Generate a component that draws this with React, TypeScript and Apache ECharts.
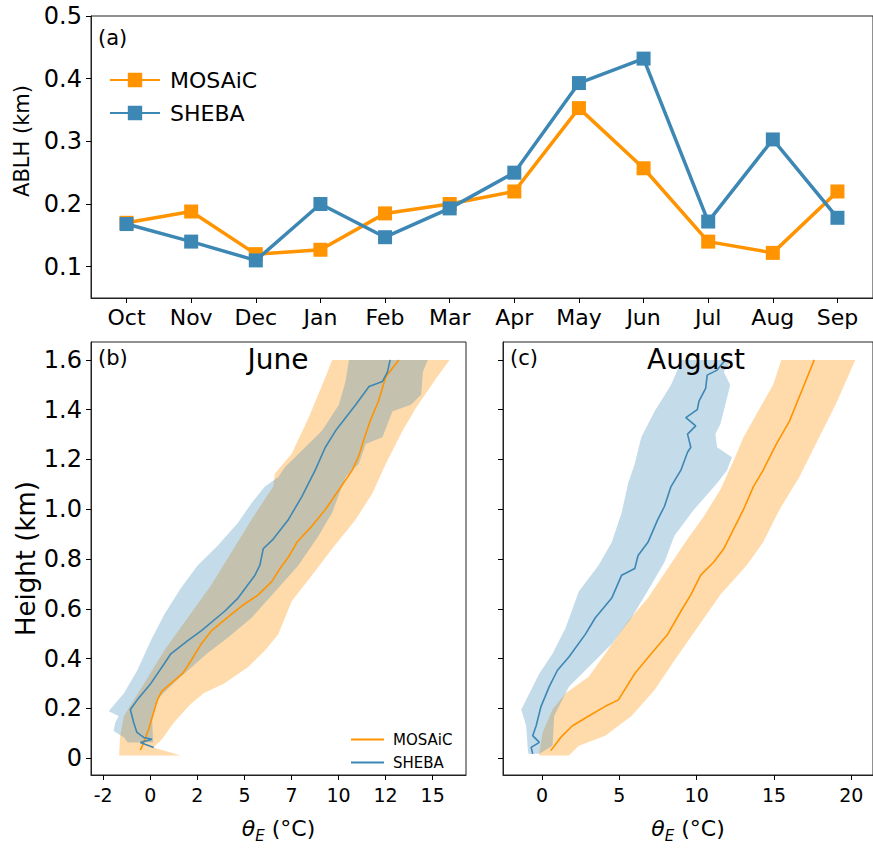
import React, { useEffect, useRef } from "react";
import * as echarts from "echarts";

// ---------- Panel (a): monthly ABLH ----------
const months = ["Oct", "Nov", "Dec", "Jan", "Feb", "Mar", "Apr", "May", "Jun", "Jul", "Aug", "Sep"];
const mosaicAblh = [0.17, 0.188, 0.12, 0.127, 0.185, 0.2, 0.22, 0.353, 0.257, 0.14, 0.122, 0.22];
const shebaAblh = [0.168, 0.14, 0.11, 0.2, 0.147, 0.193, 0.25, 0.393, 0.432, 0.172, 0.303, 0.178];
const ablhTicks = [0.1, 0.2, 0.3, 0.4, 0.5];

// ---------- Panel (b): June profiles [thetaE (°C), height (km)] ----------
const juneMosaicMean = [
  [-0.53, 0.032], [-0.42, 0.05], [-0.09, 0.116], [0.12, 0.169], [0.38, 0.234], [0.6, 0.268],
  [1.72, 0.34], [2.17, 0.392], [2.7, 0.458], [3.24, 0.511], [4.3, 0.577], [4.84, 0.61],
  [5.73, 0.656], [6.45, 0.709], [6.89, 0.762], [7.34, 0.808], [7.79, 0.867], [8.59, 0.933],
  [9.3, 0.999], [10.02, 1.078], [10.73, 1.157], [11.08, 1.216], [11.44, 1.302], [11.71, 1.361],
  [12.12, 1.434], [12.51, 1.532], [13.2, 1.6],
];
const juneMosaicLow = [
  [-1.65, 0.01], [-1.65, 0.024], [-1.6, 0.09], [-1.4, 0.169], [-0.33, 0.3], [0.74, 0.432],
  [1.99, 0.564], [3.24, 0.696], [4.31, 0.827], [5.38, 0.959], [6.53, 1.091], [6.62, 1.144],
  [7.51, 1.223], [8.41, 1.368], [9.3, 1.53], [9.66, 1.6],
];
const juneMosaicHigh = [
  [1.63, 0.01], [0.16, 0.043], [0.62, 0.076], [1.24, 0.142], [2.12, 0.215], [2.83, 0.261],
  [3.92, 0.3], [5.2, 0.366], [6.09, 0.432], [6.8, 0.498], [7.51, 0.63], [8.59, 0.735],
  [9.66, 0.841], [10.91, 0.959], [11.8, 1.064], [12.51, 1.183], [13.4, 1.315], [14.11, 1.407],
  [15.19, 1.526], [15.9, 1.6],
];
const juneShebaMean = [
  [0.18, 0.043], [-0.53, 0.063], [0.09, 0.076], [-0.35, 0.083], [-0.71, 0.103], [-0.88, 0.142],
  [-1.06, 0.195], [-0.69, 0.234], [0.03, 0.3], [0.74, 0.379], [1.09, 0.419], [1.99, 0.472],
  [2.7, 0.511], [3.95, 0.59], [4.66, 0.643], [5.56, 0.735], [5.82, 0.775], [6.0, 0.841],
  [6.53, 0.88], [7.34, 0.959], [8.05, 1.051], [8.76, 1.157], [9.3, 1.249], [9.84, 1.315],
  [10.91, 1.42], [11.62, 1.493], [12.33, 1.513], [12.6, 1.552], [12.74, 1.6],
];
const juneShebaLow = [
  [-1.2, 0.063], [-1.4, 0.083], [-1.95, 0.109], [-1.86, 0.142], [-1.68, 0.169], [-2.21, 0.188],
  [-1.4, 0.261], [-0.69, 0.353], [0.03, 0.472], [0.74, 0.577], [1.63, 0.683], [2.52, 0.775],
  [3.59, 0.854], [4.66, 0.946], [5.38, 1.025], [6.09, 1.091], [6.8, 1.13], [7.16, 1.17],
  [8.05, 1.236], [9.12, 1.315], [10.02, 1.42], [10.37, 1.513], [10.55, 1.6],
];
const juneShebaHigh = [
  [0.15, 0.063], [0.1, 0.155], [0.35, 0.234], [1.41, 0.313], [3.0, 0.419], [4.13, 0.485],
  [5.38, 0.564], [6.8, 0.683], [7.87, 0.775], [8.94, 0.893], [9.66, 0.986], [10.37, 1.13],
  [11.08, 1.183], [11.44, 1.262], [12.33, 1.289], [12.87, 1.394], [13.85, 1.42], [14.39, 1.46],
  [14.48, 1.552], [14.74, 1.6],
];

// ---------- Panel (c): August profiles [thetaE (°C), height (km)] ----------
const augMosaicMean = [
  [0.57, 0.03], [1.21, 0.083], [1.95, 0.129], [3.02, 0.169], [4.09, 0.208], [4.94, 0.234],
  [6.0, 0.34], [7.06, 0.419], [8.13, 0.498], [8.98, 0.59], [9.62, 0.656], [10.26, 0.735],
  [11.11, 0.788], [11.75, 0.841], [12.39, 0.92], [13.03, 0.999], [13.67, 1.091], [14.3, 1.157],
  [15.15, 1.262], [16.0, 1.354], [16.86, 1.486], [17.6, 1.6],
];
const augMosaicLow = [
  [-0.17, 0.01], [-0.17, 0.024], [0.04, 0.103], [0.68, 0.195], [1.53, 0.261], [3.02, 0.327],
  [4.09, 0.419], [5.57, 0.551], [6.85, 0.643], [8.13, 0.762], [9.41, 0.88], [10.47, 0.972],
  [11.53, 1.078], [12.39, 1.196], [13.03, 1.289], [14.09, 1.407], [14.94, 1.499], [15.47, 1.6],
];
const augMosaicHigh = [
  [1.74, 0.01], [2.38, 0.05], [4.09, 0.09], [5.79, 0.169], [7.28, 0.274], [8.56, 0.392],
  [10.04, 0.524], [11.53, 0.656], [13.24, 0.775], [14.3, 0.867], [15.36, 0.999], [16.64, 1.13],
  [17.92, 1.289], [18.98, 1.42], [20.26, 1.6],
];
const augShebaMean = [
  [-0.6, 0.017], [-0.7, 0.043], [-0.17, 0.063], [-0.6, 0.09], [-0.38, 0.129], [-0.06, 0.208],
  [0.47, 0.287], [1.0, 0.353], [1.74, 0.406], [2.81, 0.498], [3.45, 0.564], [4.51, 0.643],
  [5.15, 0.735], [6.0, 0.762], [6.21, 0.814], [6.85, 0.867], [7.49, 0.959], [7.92, 1.012],
  [8.34, 1.091], [8.98, 1.157], [9.41, 1.229], [9.62, 1.249], [9.41, 1.302], [9.94, 1.335],
  [9.3, 1.368], [10.04, 1.4], [10.15, 1.434], [10.58, 1.486], [10.68, 1.539], [11.32, 1.559],
  [11.85, 1.6],
];
const augShebaLow = [
  [-0.88, 0.017], [-0.92, 0.037], [-1.02, 0.129], [-1.34, 0.195], [-0.81, 0.261], [-0.17, 0.34],
  [0.68, 0.419], [1.53, 0.524], [2.38, 0.669], [3.66, 0.775], [4.51, 0.867], [5.15, 0.986],
  [5.57, 1.104], [6.0, 1.183], [6.42, 1.289], [7.28, 1.394], [8.34, 1.499], [8.88, 1.578],
  [9.0, 1.6],
];
const augShebaHigh = [
  [-0.17, 0.017], [0.68, 0.05], [0.79, 0.169], [1.74, 0.287], [3.02, 0.366], [4.51, 0.458],
  [5.79, 0.564], [7.06, 0.696], [7.92, 0.788], [8.56, 0.893], [9.83, 0.999], [11.32, 1.104],
  [11.96, 1.157], [12.28, 1.209], [11.32, 1.249], [11.21, 1.302], [11.53, 1.341], [11.85, 1.42],
  [12.17, 1.499], [11.75, 1.552], [12.3, 1.6],
];

const heightTicks = [0, 0.2, 0.4, 0.6, 0.8, 1.0, 1.2, 1.4, 1.6];
const juneTicks = [-2.5, 0, 2.5, 5, 7.5, 10, 12.5, 15];
const augTicks = [0, 5, 10, 15, 20];

const ORANGE = "#ff9300";
const BLUE = "#3d87b5";
const ORANGE_BAND = "rgba(255,147,0,0.33)";
const BLUE_BAND = "rgba(61,135,181,0.30)";
const FONT = "DejaVu Sans";
const INK = "#000";
const FRAME = "#222";

function band(low: number[][], high: number[][], fill: string, idx: number, name: string) {
  const poly = low.concat(high.slice().reverse());
  return {
    type: "custom",
    name,
    xAxisIndex: idx,
    yAxisIndex: idx,
    silent: true,
    z: 1,
    data: [low[0]],
    encode: { x: 0, y: 1 },
    renderItem: (_p: any, api: any) => ({
      type: "polygon",
      shape: { points: poly.map((p) => api.coord(p)) },
      style: { fill, stroke: "none" },
    }),
  };
}

function profile(data: number[][], color: string, idx: number, name: string) {
  return {
    type: "line",
    name,
    xAxisIndex: idx,
    yAxisIndex: idx,
    data,
    symbol: "none",
    z: 3,
    lineStyle: { color, width: 1.6 },
    itemStyle: { color },
  };
}

const THETA_NAME = "{i|θ}{s|E}{n| (°C)}";
const thetaRich = {
  i: { fontFamily: FONT, fontStyle: "italic", fontSize: 22, color: INK },
  s: { fontFamily: FONT, fontStyle: "italic", fontSize: 15, color: INK, padding: [14, 0, 0, 0] },
  n: { fontFamily: FONT, fontSize: 22, color: INK },
};

export default function App() {
  const ref = useRef<HTMLDivElement>(null);
  useEffect(() => {
    if (!ref.current) return;
    const chart = echarts.init(ref.current, undefined, { renderer: "svg" });
    const monthIdx = months.map((_, i) => i);
    const tickStyle = { show: true, length: 5, inside: false, lineStyle: { color: INK, width: 1 } };
    const axLine = { show: true, onZero: false, lineStyle: { color: FRAME, width: 1 } };
    const option: any = {
      animation: false,
      backgroundColor: "#fff",
      textStyle: { fontFamily: FONT },
      grid: [
        { left: 91, top: 16, right: -13, bottom: 550, show: true, borderColor: FRAME, borderWidth: 1, containLabel: false },
        { left: 91, top: 342, width: 375, bottom: 65, show: true, borderColor: FRAME, borderWidth: 1, containLabel: false },
        { left: 503, top: 342, width: 375, bottom: 65, show: true, borderColor: FRAME, borderWidth: 1, containLabel: false },
      ],
      xAxis: [
        {
          gridIndex: 0, type: "value", min: -0.55, max: 11.55, position: "bottom",
          axisLine: axLine, splitLine: { show: false },
          axisTick: { ...tickStyle, customValues: monthIdx },
          axisLabel: {
            customValues: monthIdx, formatter: (v: number) => months[Math.round(v)],
            fontSize: 22, color: INK, fontFamily: FONT, margin: 8,
          },
        },
        {
          gridIndex: 1, type: "value", min: -3.15, max: 16.77, position: "bottom",
          axisLine: axLine, splitLine: { show: false },
          axisTick: { ...tickStyle, customValues: juneTicks },
          axisLabel: {
            customValues: juneTicks, formatter: (v: number) => String(Math.trunc(v)),
            fontSize: 19, color: INK, fontFamily: FONT, margin: 10,
          },
          name: THETA_NAME, nameLocation: "middle", nameGap: 39,
          nameTextStyle: { rich: thetaRich },
        },
        {
          gridIndex: 2, type: "value", min: -2.52, max: 21.4, position: "bottom",
          axisLine: axLine, splitLine: { show: false },
          axisTick: { ...tickStyle, customValues: augTicks },
          axisLabel: {
            customValues: augTicks, formatter: (v: number) => String(v),
            fontSize: 19, color: INK, fontFamily: FONT, margin: 10,
          },
          name: THETA_NAME, nameLocation: "middle", nameGap: 39,
          nameTextStyle: { rich: thetaRich },
        },
      ],
      yAxis: [
        {
          gridIndex: 0, type: "value", min: 0.05, max: 0.5, position: "left",
          axisLine: axLine, splitLine: { show: false },
          axisTick: { ...tickStyle, customValues: ablhTicks },
          axisLabel: {
            customValues: ablhTicks, formatter: (v: number) => v.toFixed(1),
            fontSize: 24, color: INK, fontFamily: FONT, margin: 9,
          },
        },
        {
          gridIndex: 1, type: "value", min: -0.068, max: 1.672, position: "left",
          axisLine: axLine, splitLine: { show: false },
          axisTick: { ...tickStyle, customValues: heightTicks },
          axisLabel: {
            customValues: heightTicks, formatter: (v: number) => (v === 0 ? "0" : v.toFixed(1)),
            fontSize: 24, color: INK, fontFamily: FONT, margin: 9,
          },
          name: "Height (km)", nameLocation: "middle", nameGap: 52, nameRotate: 90,
          nameTextStyle: { fontSize: 26, color: INK, fontFamily: FONT },
        },
        {
          gridIndex: 2, type: "value", min: -0.068, max: 1.672, position: "left",
          axisLine: axLine, splitLine: { show: false },
          axisTick: { ...tickStyle, customValues: heightTicks },
          axisLabel: { show: false, customValues: heightTicks },
        },
      ],
      legend: [
        {
          data: ["MOSAiC", "SHEBA"], orient: "vertical", left: 104, top: 64,
          itemWidth: 50, itemHeight: 18, itemGap: 11, selectedMode: false,
          textStyle: { fontSize: 22, color: INK, fontFamily: FONT, padding: [0, 0, 0, 5] },
        },
        {
          data: [
            { name: "MOSAiC (June)", icon: "rect" },
            { name: "SHEBA (June)", icon: "rect" },
          ],
          formatter: (n: string) => n.split(" ")[0],
          orient: "vertical", left: 346, top: 727,
          itemWidth: 33, itemHeight: 2, itemGap: 8, selectedMode: false,
          textStyle: { fontSize: 15, color: INK, fontFamily: FONT, padding: [0, 0, 0, 4] },
        },
      ],
      graphic: [
        {
          type: "text", z: 100, x: 22, y: 141, rotation: Math.PI / 2,
          style: { text: "ABLH (km)", fontSize: 21, fontFamily: FONT, fill: INK, textAlign: "center", textVerticalAlign: "middle" },
        },
        { type: "text", z: 100, x: 98, y: 27, style: { text: "(a)", fontSize: 21, fontFamily: FONT, fill: INK } },
        { type: "text", z: 100, x: 98, y: 347, style: { text: "(b)", fontSize: 21, fontFamily: FONT, fill: INK } },
        { type: "text", z: 100, x: 510, y: 347, style: { text: "(c)", fontSize: 21, fontFamily: FONT, fill: INK } },
        { type: "text", z: 100, x: 278, y: 345, style: { text: "June", fontSize: 28, fontFamily: FONT, fill: INK, textAlign: "center" } },
        { type: "text", z: 100, x: 696, y: 345, style: { text: "August", fontSize: 28, fontFamily: FONT, fill: INK, textAlign: "center" } },
      ],
      series: [
        {
          type: "line", name: "MOSAiC", xAxisIndex: 0, yAxisIndex: 0,
          data: mosaicAblh.map((v, i) => [i, v]),
          symbol: "rect", symbolSize: 14, z: 3,
          lineStyle: { color: ORANGE, width: 3.5 }, itemStyle: { color: ORANGE },
        },
        {
          type: "line", name: "SHEBA", xAxisIndex: 0, yAxisIndex: 0,
          data: shebaAblh.map((v, i) => [i, v]),
          symbol: "rect", symbolSize: 14, z: 4,
          lineStyle: { color: BLUE, width: 3.5 }, itemStyle: { color: BLUE },
        },
        band(juneMosaicLow, juneMosaicHigh, ORANGE_BAND, 1, "MOSAiC June range"),
        band(juneShebaLow, juneShebaHigh, BLUE_BAND, 1, "SHEBA June range"),
        profile(juneMosaicMean, ORANGE, 1, "MOSAiC (June)"),
        profile(juneShebaMean, BLUE, 1, "SHEBA (June)"),
        band(augMosaicLow, augMosaicHigh, ORANGE_BAND, 2, "MOSAiC August range"),
        band(augShebaLow, augShebaHigh, BLUE_BAND, 2, "SHEBA August range"),
        profile(augMosaicMean, ORANGE, 2, "MOSAiC (August)"),
        profile(augShebaMean, BLUE, 2, "SHEBA (August)"),
      ],
    };
    chart.setOption(option);
    return () => chart.dispose();
  }, []);
  return (
    <div
      ref={ref}
      style={{ position: "absolute", left: 0, top: 0, width: 873, height: 848, background: "#fff" }}
    />
  );
}
